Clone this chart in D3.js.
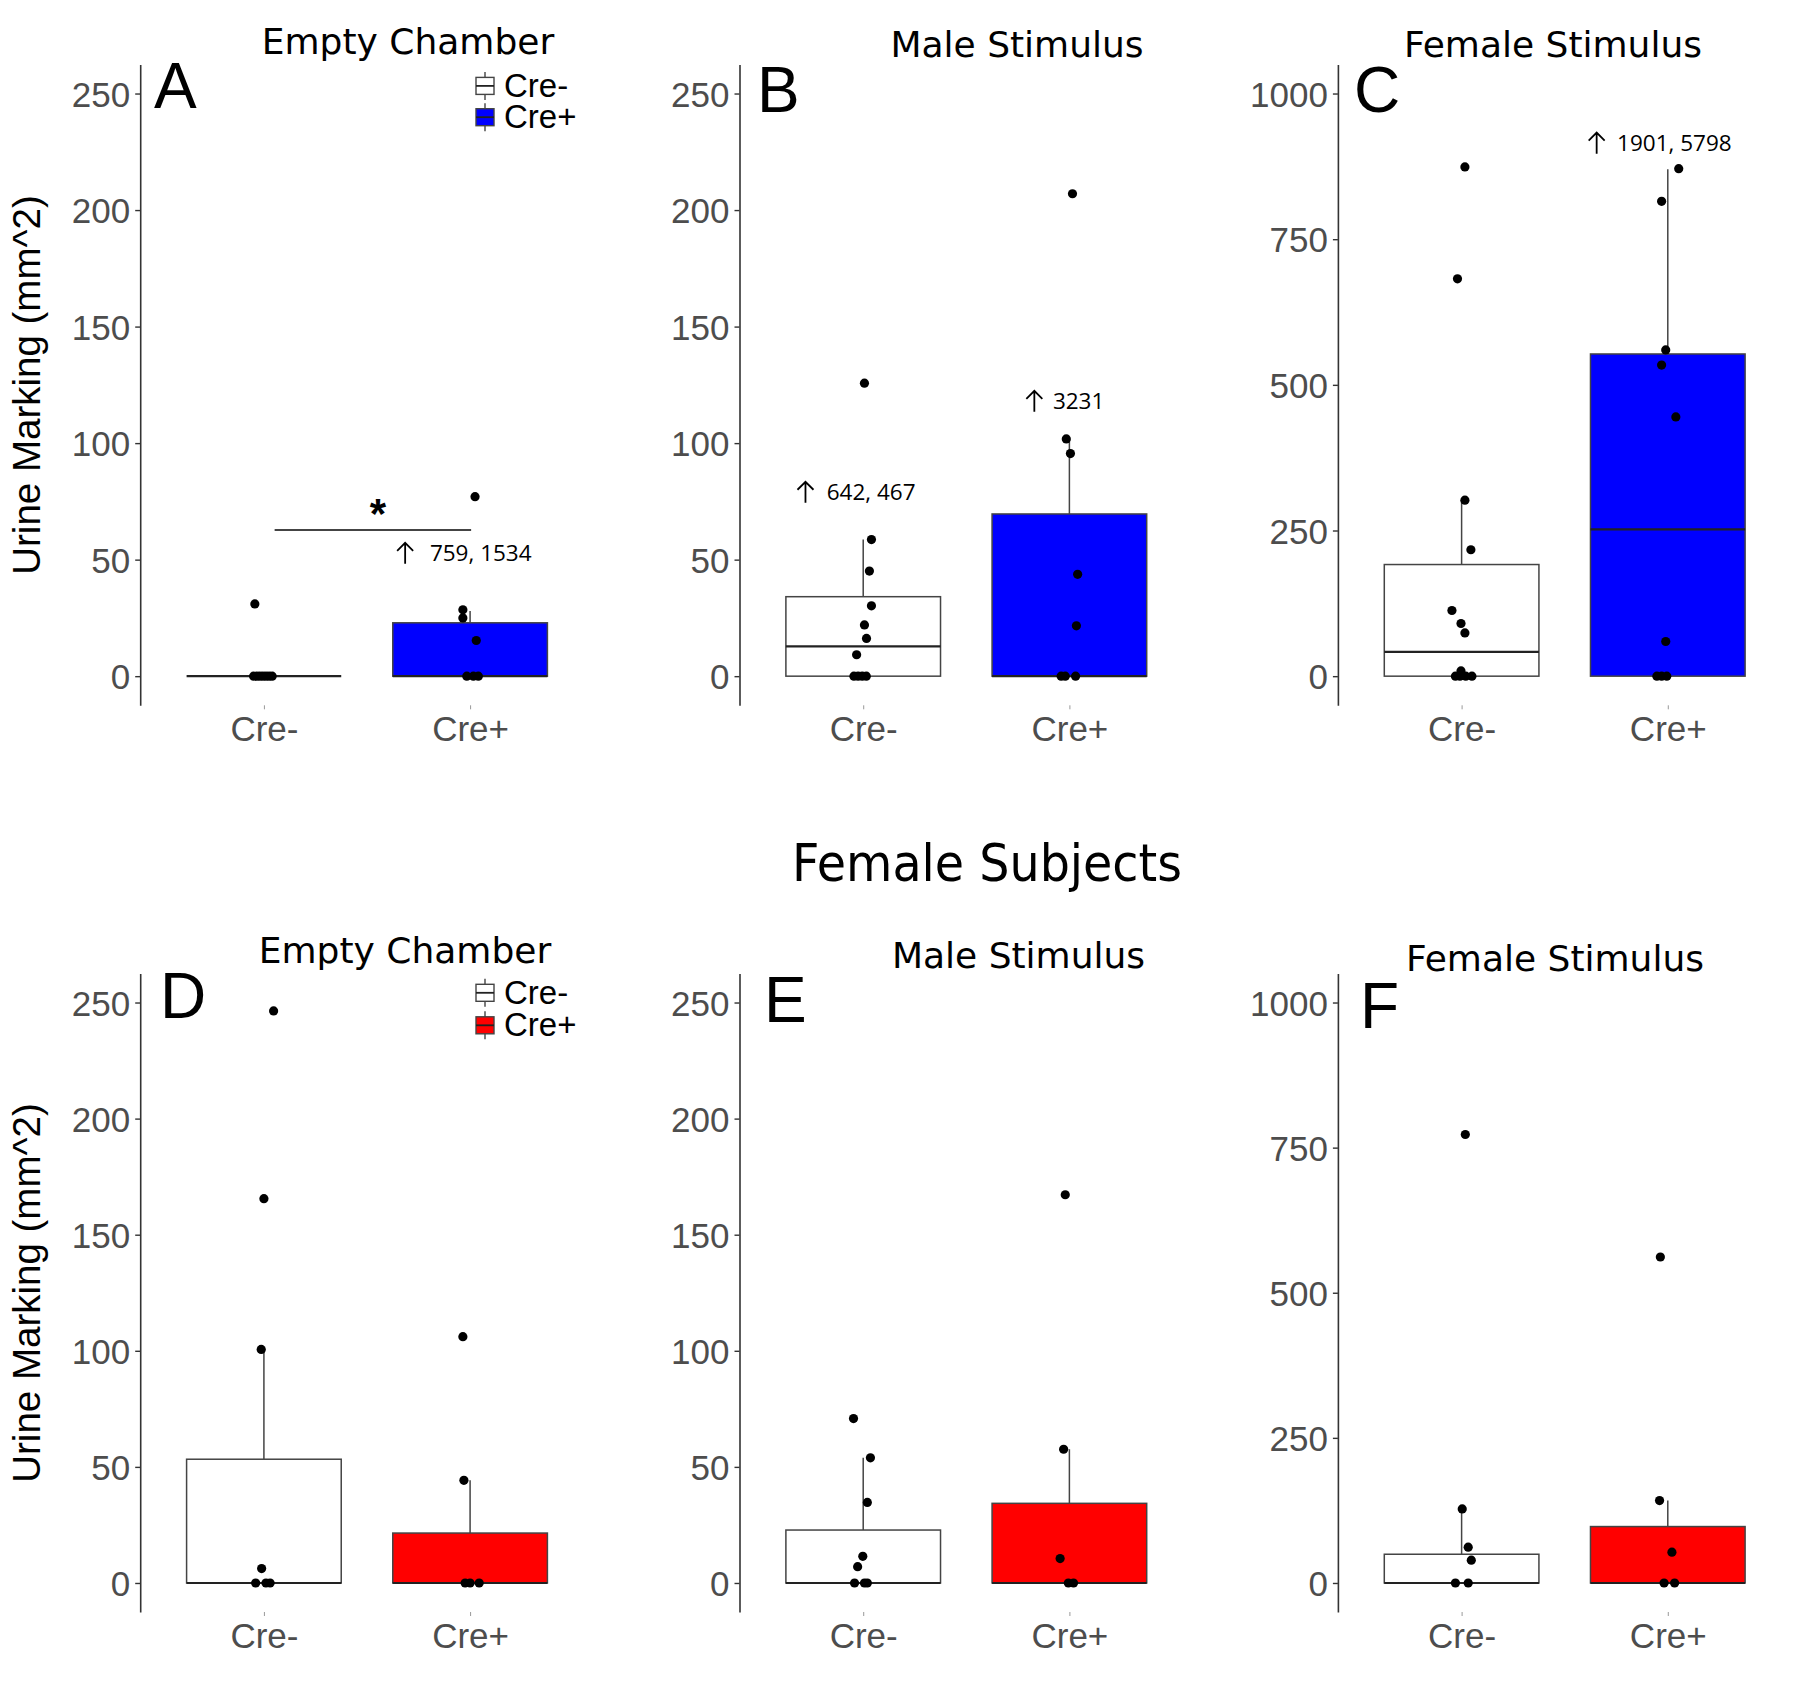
<!DOCTYPE html>
<html>
<head>
<meta charset="utf-8">
<script src="https://cdn.jsdelivr.net/npm/d3@7"></script>
<style>
  html, body { margin: 0; padding: 0; background: #ffffff; }
  svg { display: block; }
</style>
</head>
<body>
<svg id="chart" width="1800" height="1704"></svg>
<script>
// ---------------- DATA ----------------
const categories = ["Cre-", "Cre+"];
const panelLetters = ["A", "B", "C", "D", "E", "F"];
const panelTitles = ["Empty Chamber", "Male Stimulus", "Female Stimulus",
                     "Empty Chamber", "Male Stimulus", "Female Stimulus"];
const panelYMax = [250, 250, 1000, 250, 250, 1000];
const ticksSmall = [0, 50, 100, 150, 200, 250];
const ticksLarge = [0, 250, 500, 750, 1000];
const rowTitle = "Female Subjects";
const yLabel = "Urine Marking (mm^2)";
const legendLabels = ["Cre-", "Cre+"];

// box stats: [lower whisker, q1, median, q3, upper whisker]
const boxA_neg = [0, 0, 0, 0, 0];
const boxA_pos = [0, 0, 0, 22.9, 28];
const boxB_neg = [0, 0, 12.8, 34.1, 58.6];
const boxB_pos = [0, 0, 0, 69.6, 101.8];
const boxC_neg = [0, 0, 41.7, 191.6, 302];
const boxC_pos = [0, 0, 252, 553, 870];
const boxD_neg = [0, 0, 0, 53.3, 100.6];
const boxD_pos = [0, 0, 0, 21.5, 44.2];
const boxE_neg = [0, 0, 0, 22.8, 53.9];
const boxE_pos = [0, 0, 0, 34.3, 57.6];
const boxF_neg = [0, 0, 0, 49.5, 127.6];
const boxF_pos = [0, 0, 0, 97.2, 141.9];

// individual points (values) and horizontal jitter (category units)
const valA_neg = [31, 0, 0, 0, 0, 0, 0, 0];
const jitA_neg = [-0.044, -0.05, -0.035, -0.02, -0.005, 0.01, 0.025, 0.04];
const valA_pos = [77, 28.5, 25, 15.3, 0, 0, 0];
const jitA_pos = [0.024, -0.035, -0.035, 0.03, -0.016, 0.016, 0.04];
const valB_neg = [125.7, 58.6, 45.1, 30.2, 22, 16.2, 9.2, 0, 0, 0, 0];
const jitB_neg = [0.006, 0.04, 0.03, 0.04, 0.006, 0.016, -0.032, -0.045, -0.025, -0.005, 0.015];
const valB_pos = [207, 101.8, 95.5, 43.7, 21.6, 0, 0, 0];
const jitB_pos = [0.015, -0.015, 0.005, 0.04, 0.034, -0.04, -0.02, 0.03];
const valC_neg = [874, 682, 302, 217, 112.7, 90.4, 74.3, 9, 0, 0, 0, 0];
const jitC_neg = [0.016, -0.02, 0.016, 0.045, -0.047, -0.003, 0.016, -0.003, -0.03, -0.008, 0.02, 0.05];
const valC_pos = [871, 815, 560, 534, 445, 59.5, 0, 0, 0];
const jitC_pos = [0.053, -0.03, -0.01, -0.03, 0.039, -0.01, -0.053, -0.03, -0.005];
const valD_neg = [246.4, 165.5, 100.6, 6.2, 0, 0, 0];
const jitD_neg = [0.047, 0, -0.013, -0.011, -0.04, 0.01, 0.03];
const valD_pos = [106.1, 44.2, 0, 0, 0];
const jitD_pos = [-0.035, -0.03, -0.024, 0, 0.044];
const valE_neg = [70.8, 53.9, 34.7, 11.5, 7.0, 0, 0, 0];
const jitE_neg = [-0.047, 0.035, 0.02, -0.002, -0.027, -0.042, 0.006, 0.02];
const valE_pos = [167.2, 57.6, 10.5, 0, 0];
const jitE_pos = [-0.02, -0.028, -0.045, -0.005, 0.02];
const valF_neg = [772.6, 127.6, 61.6, 39.2, 0, 0];
const jitF_neg = [0.018, 0.003, 0.032, 0.047, -0.03, 0.032];
const valF_pos = [561.6, 141.9, 53, 0, 0];
const jitF_pos = [-0.036, -0.04, 0.02, -0.018, 0.033];

// off-scale annotations: panel index, arrow x, text x (category units), baseline y (data)
const annotTexts = ["759, 1534", "642, 467", "3231", "1901, 5798"];
const annotPanel = [0, 1, 1, 2];
const annotArrowX = [1.685, 0.72, 1.83, 1.655];
const annotTextX = [1.805, 0.823, 1.92, 1.754];
const annotY = [49.5, 75.7, 114.7, 902];

// significance bar in panel A
const sigX = [1.052, 2.005];
const sigY = 62.7;
const sigLabel = "*";

// ---------------- LAYOUT ----------------
const svg = d3.select("#chart");
const panelLeft = [140.2, 739.5, 1337.9];
const plotW = 453.6;
const rowRange = [[705.3, 64.4], [1612, 973.5]];
const letterPos = [[154, 107.5], [757, 112.3], [1354, 112.3], [160, 1017.6], [764, 1021.7], [1360, 1028]];
const titlePos = [[408, 53.5], [1017, 57], [1553, 57], [405, 963], [1018.5, 967.5], [1555, 970.5]];
const fills = [["#ffffff", "#0000ff"], ["#ffffff", "#ff0000"]];

const boxes = [[boxA_neg, boxA_pos], [boxB_neg, boxB_pos], [boxC_neg, boxC_pos],
               [boxD_neg, boxD_pos], [boxE_neg, boxE_pos], [boxF_neg, boxF_pos]];
const vals = [[valA_neg, valA_pos], [valB_neg, valB_pos], [valC_neg, valC_pos],
              [valD_neg, valD_pos], [valE_neg, valE_pos], [valF_neg, valF_pos]];
const jits = [[jitA_neg, jitA_pos], [jitB_neg, jitB_pos], [jitC_neg, jitC_pos],
              [jitD_neg, jitD_pos], [jitE_neg, jitE_pos], [jitF_neg, jitF_pos]];

const scales = [];

panelLetters.forEach((letter, p) => {
  const row = Math.floor(p / 3), col = p % 3;
  const left = panelLeft[col];
  const ymax = panelYMax[p];
  const y = d3.scaleLinear().domain([-ymax * 0.05, ymax * 1.05]).range(rowRange[row]);
  const x = d3.scaleLinear().domain([0.4, 2.6]).range([left, left + plotW]);
  scales.push({ x, y });
  const g = svg.append("g");

  // y axis
  const yAxis = d3.axisLeft(y).tickValues(ymax === 250 ? ticksSmall : ticksLarge)
    .tickSize(5).tickSizeOuter(0).tickPadding(5).tickFormat(d3.format("d"));
  const ya = g.append("g").attr("transform", `translate(${left},0)`).call(yAxis);
  ya.select(".domain").attr("stroke", "#333333").attr("stroke-width", 1.6);
  ya.selectAll(".tick line").attr("stroke", "#333333").attr("stroke-width", 1.4);
  ya.selectAll(".tick text").attr("fill", "#4d4d4d")
    .style("font-family", "'Liberation Sans', Arial, sans-serif").style("font-size", "35px")
    .attr("dy", "0.36em");

  // x axis (ticks and labels only)
  const xAxis = d3.axisBottom(x).tickValues([1, 2]).tickFormat((d) => categories[d - 1])
    .tickSize(4).tickSizeOuter(0);
  const xa = g.append("g").attr("transform", `translate(0,${rowRange[row][0]})`).call(xAxis);
  xa.select(".domain").remove();
  xa.selectAll(".tick line").attr("stroke", "#999999").attr("stroke-width", 1);
  xa.selectAll(".tick text").attr("fill", "#4d4d4d")
    .style("font-family", "'Liberation Sans', Arial, sans-serif").style("font-size", "35px")
    .attr("y", 36).attr("dy", null);

  // boxplots
  const bw = 0.75;
  categories.forEach((c, i) => {
    const s = boxes[p][i];
    const cx = x(i + 1);
    const bx0 = x(i + 1 - bw / 2), bx1 = x(i + 1 + bw / 2);
    // whiskers
    g.append("line").attr("x1", cx).attr("x2", cx).attr("y1", y(s[3])).attr("y2", y(s[4]))
      .attr("stroke", "#444444").attr("stroke-width", 1.5);
    g.append("line").attr("x1", cx).attr("x2", cx).attr("y1", y(s[1])).attr("y2", y(s[0]))
      .attr("stroke", "#444444").attr("stroke-width", 1.5);
    g.append("rect").attr("x", bx0).attr("width", bx1 - bx0)
      .attr("y", y(s[3])).attr("height", Math.max(0, y(s[1]) - y(s[3])))
      .attr("fill", fills[row][i]).attr("stroke", "#444444").attr("stroke-width", 1.5);
    g.append("line").attr("x1", bx0).attr("x2", bx1).attr("y1", y(s[2])).attr("y2", y(s[2]))
      .attr("stroke", "#222222").attr("stroke-width", 2.2);
  });

  // points
  categories.forEach((c, i) => {
    const v = vals[p][i], j = jits[p][i];
    g.selectAll(null).data(v).enter().append("circle")
      .attr("cx", (d, k) => x(i + 1 + j[k]))
      .attr("cy", (d) => y(d))
      .attr("r", 4.6).attr("fill", "#000000");
  });

  // panel letter
  svg.append("text").attr("x", letterPos[p][0]).attr("y", letterPos[p][1])
    .style("font-family", "'Liberation Sans', Arial, sans-serif").style("font-size", "64px")
    .attr("fill", "#000").text(letter);

  // panel title
  svg.append("text").attr("x", titlePos[p][0]).attr("y", titlePos[p][1])
    .attr("text-anchor", "middle")
    .style("font-family", "'DejaVu Sans', Verdana, sans-serif").style("font-size", "36px")
    .attr("fill", "#000").text(panelTitles[p]);

  // y label
  if (col === 0) {
    const cy = (rowRange[row][0] + rowRange[row][1]) / 2 + 0;
    svg.append("text")
      .attr("transform", `translate(40,${row === 0 ? 385 : 1293}) rotate(-90)`)
      .attr("text-anchor", "middle")
      .style("font-family", "'Liberation Sans', Arial, sans-serif").style("font-size", "38.5px")
      .attr("fill", "#000").text(yLabel);
  }

  // legend
  if (col === 0) {
    const rowY = row === 0 ? [85.9, 117.2] : [992.8, 1025.3];
    legendLabels.forEach((lab, i) => {
      const ky = rowY[i];
      const kx = 485;
      svg.append("line").attr("x1", kx).attr("x2", kx).attr("y1", ky - 14).attr("y2", ky + 14)
        .attr("stroke", "#444444").attr("stroke-width", 1.4);
      svg.append("rect").attr("x", kx - 9).attr("y", ky - 8.5).attr("width", 18).attr("height", 17)
        .attr("fill", fills[row][i]).attr("stroke", "#444444").attr("stroke-width", 1.4);
      svg.append("line").attr("x1", kx - 9).attr("x2", kx + 9).attr("y1", ky).attr("y2", ky)
        .attr("stroke", "#222222").attr("stroke-width", 1.8);
      svg.append("text").attr("x", 504).attr("y", ky + 11)
        .style("font-family", "'Liberation Sans', Arial, sans-serif").style("font-size", "33px")
        .attr("fill", "#000").text(lab);
    });
  }
});

// annotations
annotTexts.forEach((t, k) => {
  const sc = scales[annotPanel[k]];
  const ax = sc.x(annotArrowX[k]);
  const by = sc.y(annotY[k]);
  svg.append("path")
    .attr("d", `M${ax},${by + 3} L${ax},${by - 18} M${ax - 8},${by - 10} L${ax},${by - 18} L${ax + 8},${by - 10}`)
    .attr("fill", "none").attr("stroke", "#000").attr("stroke-width", 1.8);
  svg.append("text").attr("x", sc.x(annotTextX[k])).attr("y", by)
    .style("font-family", "'Open Sans', 'Noto Sans', sans-serif").style("font-size", "22.5px")
    .attr("fill", "#000").text(t);
});

// significance bar
{
  const sc = scales[0];
  svg.append("line").attr("x1", sc.x(sigX[0])).attr("x2", sc.x(sigX[1]))
    .attr("y1", sc.y(sigY)).attr("y2", sc.y(sigY))
    .attr("stroke", "#444444").attr("stroke-width", 2);
  svg.append("text").attr("x", sc.x((sigX[0] + sigX[1]) / 2 + 0.025)).attr("y", sc.y(sigY) - 2)
    .attr("text-anchor", "middle")
    .style("font-family", "'Liberation Sans', Arial, sans-serif").style("font-size", "42px")
    .style("font-weight", "bold").attr("fill", "#000").text(sigLabel);
}

// row title
svg.append("text").attr("x", 987).attr("y", 880.5).attr("text-anchor", "middle")
  .attr("textLength", 390).attr("lengthAdjust", "spacingAndGlyphs")
  .style("font-family", "'DejaVu Sans', Verdana, sans-serif").style("font-size", "51px")
  .attr("fill", "#000").text(rowTitle);
</script>
</body>
</html>
